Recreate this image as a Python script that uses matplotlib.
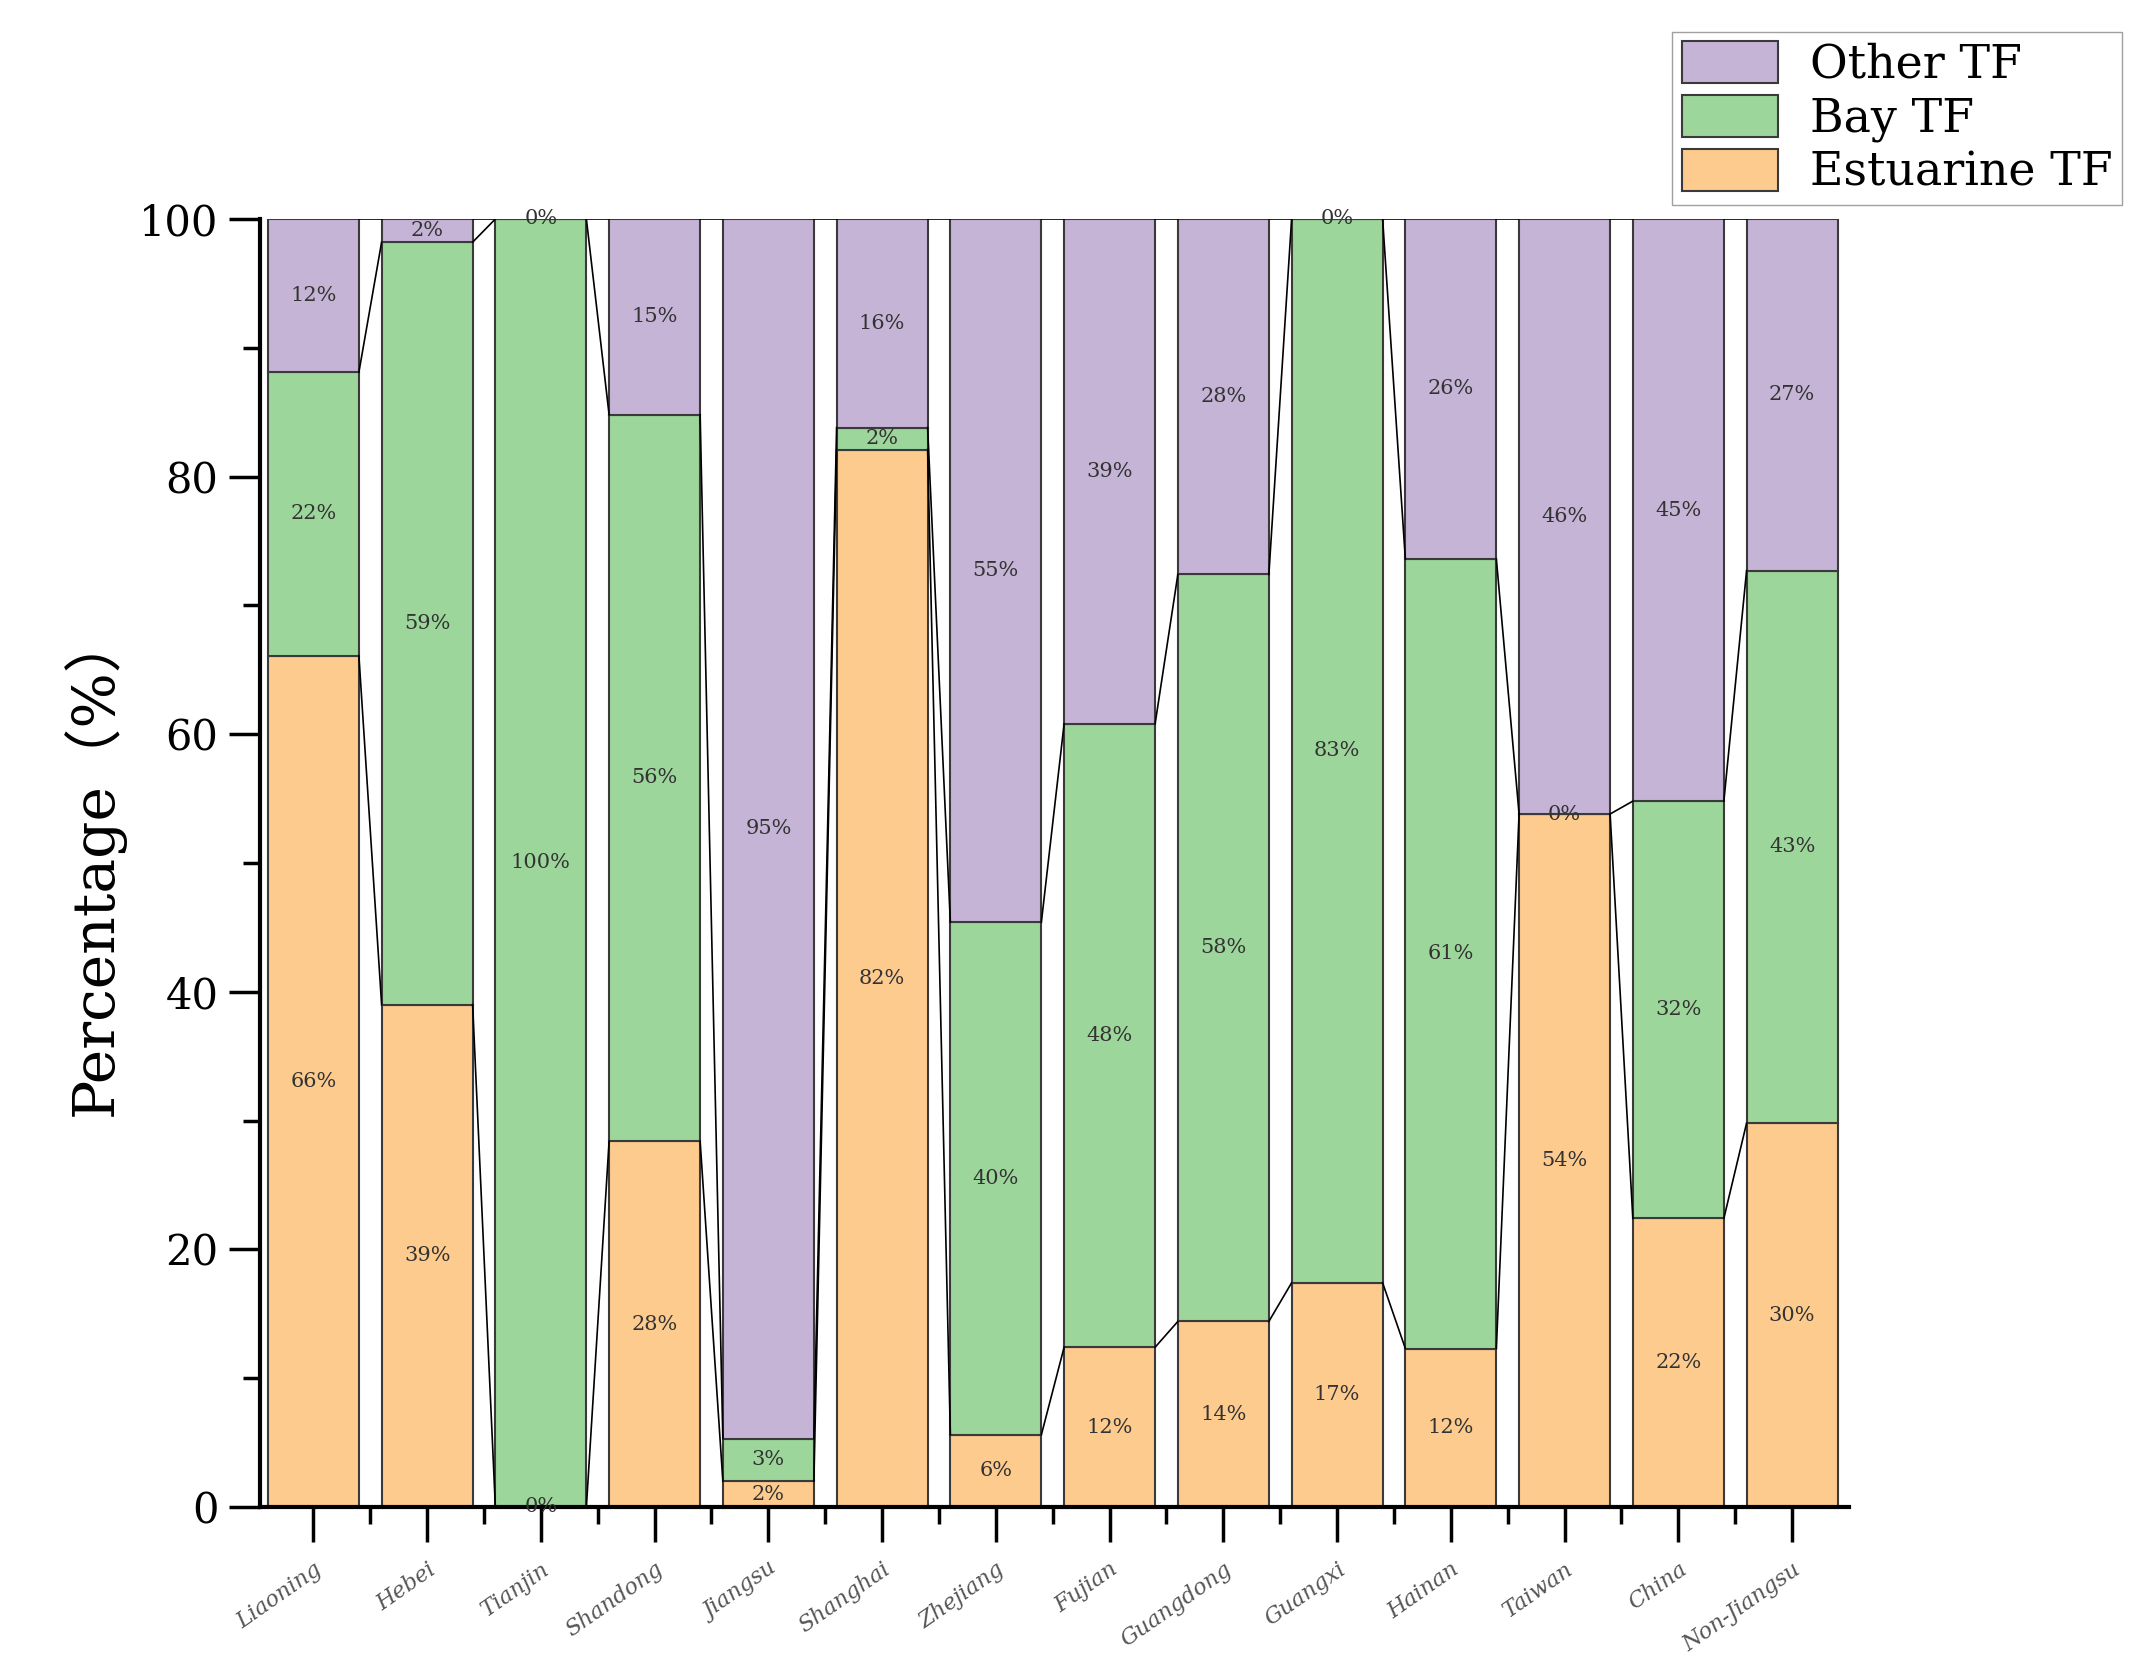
import numpy as np
import matplotlib
matplotlib.use('Agg')
from matplotlib import pyplot as plt
from matplotlib.ticker import MultipleLocator, FixedLocator

regions = ['Liaoning', 'Hebei', 'Tianjin', 'Shandong', 'Jiangsu', 'Shanghai', 'Zhejiang',
           'Fujian', 'Guangdong', 'Guangxi', 'Hainan', 'Taiwan', 'China', 'Non-Jiangsu']
estuarine = [66.1, 39.0, 0.0, 28.4, 2.0, 82.1, 5.6, 12.4, 14.4, 17.4, 12.3, 53.8, 22.4, 29.8]
bay = [22.0, 59.2, 100.0, 56.4, 3.3, 1.7, 39.8, 48.4, 58.0, 82.6, 61.3, 0.0, 32.4, 42.9]
other = [11.9, 1.8, 0.0, 15.2, 94.7, 16.2, 54.6, 39.2, 27.6, 0.0, 26.4, 46.2, 45.2, 27.3]

series_names = ['Estuarine TF', 'Bay TF', 'Other TF']
colors = ['#FECB8F', '#9DD69B', '#C5B4D6']

plt.rcParams['font.family'] = ['DejaVu Serif', 'Noto Sans CJK SC']

fig = plt.figure(figsize=(21.41, 16.64), dpi=100)
ax = fig.add_axes([0.1214, 0.0944, 0.7422, 0.774])

x = np.arange(len(regions))
w = 0.8
data = [np.array(estuarine), np.array(bay), np.array(other)]
bottom = np.zeros(len(regions))
bars = []
for vals, name, c in zip(data, series_names, colors):
    b = ax.bar(x, vals, w, bottom=bottom, color=c, edgecolor='#3a3a3a', linewidth=1.5,
               label=name, zorder=2)
    bars.append(b)
    for xi, v, b0 in zip(x, vals, bottom):
        ax.text(xi, b0 + v / 2, '%d%%' % round(v), ha='center', va='center',
                fontsize=15, color='#333333', zorder=4)
    bottom = bottom + vals
    # 相邻柱子的分界线连线
    for i in range(len(regions) - 1):
        ax.plot([x[i] + w / 2, x[i + 1] - w / 2], [bottom[i], bottom[i + 1]],
                color='black', linewidth=1.2, zorder=3)

ax.set_xlim(-0.47, 13.5)
ax.set_ylim(0, 100)
ax.spines['top'].set_visible(False)
ax.spines['right'].set_visible(False)
ax.spines['left'].set_linewidth(3)
ax.spines['bottom'].set_linewidth(3)

ax.yaxis.set_major_locator(MultipleLocator(20))
ax.yaxis.set_minor_locator(MultipleLocator(10))
ax.tick_params(axis='y', which='major', direction='out', length=22, width=2.5,
               labelsize=30, pad=8)
ax.tick_params(axis='y', which='minor', direction='out', length=12, width=2.5)

ax.set_xticks(x)
ax.xaxis.set_minor_locator(FixedLocator(x[:-1] + 0.5))
ax.set_xticklabels(regions, rotation=35, ha='right', rotation_mode='anchor',
                   fontsize=16, color='#555555', style='italic')
ax.tick_params(axis='x', which='major', direction='out', length=25, width=2.5, pad=12)
ax.tick_params(axis='x', which='minor', direction='out', length=12, width=2.5)

ax.set_ylabel('Percentage（%）', fontsize=42, labelpad=10)

handles = [bars[2], bars[1], bars[0]]
fig.legend(handles, ['Other TF', 'Bay TF', 'Estuarine TF'], loc='upper right',
           bbox_to_anchor=(0.991, 0.981), fontsize=33, frameon=True, fancybox=False,
           edgecolor='#888888', handlelength=2.1, handleheight=1.05, labelspacing=0.15,
           borderpad=0.2, handletextpad=0.7, borderaxespad=0)

fig.savefig('out.png', dpi=100)
